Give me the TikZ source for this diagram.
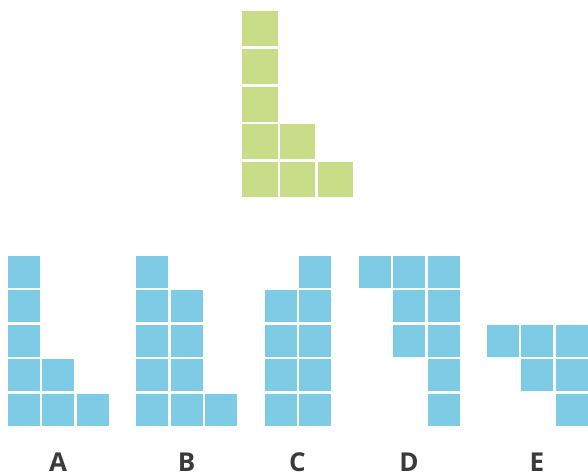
\documentclass[tikz,border=0pt]{standalone}
\usepackage{fontspec}
\setmainfont{Open Sans}
\definecolor{lgreen}{RGB}{201,220,135}
\definecolor{lblue}{RGB}{126,203,230}
\definecolor{lbl}{RGB}{58,58,58}
\begin{document}
\begin{tikzpicture}[x=1pt,y=-1pt,
  gcell/.style={fill=lgreen},
  bcell/.style={fill=lblue},
  lab/.style={text=lbl,font=\bfseries\fontsize{26}{26}\selectfont,anchor=base,inner sep=0pt}]
\useasboundingbox (0,0) rectangle (588,473);
% target shape (green)
\foreach \c/\r in {0/0,0/1,0/2,0/3,0/4,1/3,1/4,2/4}
  \fill[gcell] ({242.3+37.8*\c},{11+37.8*\r}) rectangle ++(35.2,35);
% options (blue)
\newcommand\bsq[3]{\fill[bcell] ({#1+34.4*#2},{256+34.4*#3}) rectangle ++(32,32);}
% A
\foreach \c/\r in {0/0,0/1,0/2,0/3,0/4,1/3,1/4,2/4} {\bsq{8}{\c}{\r}}
% B
\foreach \c/\r in {0/0,0/1,0/2,0/3,0/4,1/1,1/2,1/3,1/4,2/4} {\bsq{136.3}{\c}{\r}}
% C
\foreach \c/\r in {0/1,0/2,0/3,0/4,1/0,1/1,1/2,1/3,1/4} {\bsq{265}{\c}{\r}}
% D
\foreach \c/\r in {0/0,1/0,1/1,1/2,2/0,2/1,2/2,2/3,2/4} {\bsq{358.7}{\c}{\r}}
% E
\foreach \c/\r in {0/2,1/2,1/3,2/2,2/3,2/4} {\bsq{487}{\c}{\r}}
% labels
\node[lab] (la) at (58,471) {A};
\node[lab] (lb) at (186.5,471) {B};
\node[lab] (lc) at (297.5,471) {C};
\node[lab] (ld) at (409,471) {D};
\node[lab] (le) at (537,471) {E};
\end{tikzpicture}
\end{document}
